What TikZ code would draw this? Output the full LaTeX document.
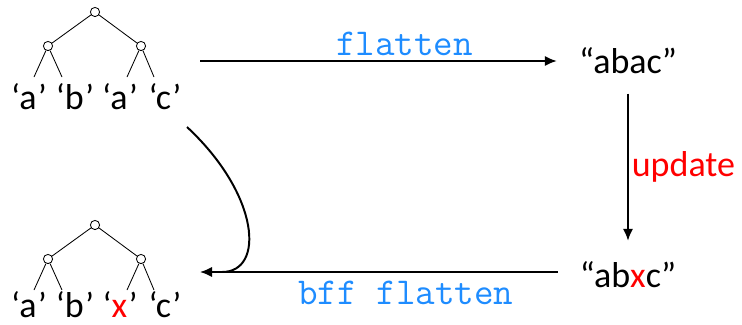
\documentclass[tikz,border=0pt]{standalone}
\usepackage{fontspec}
\setmainfont{Carlito}
\usetikzlibrary{arrows.meta}
\definecolor{MapBlue}{HTML}{1E8CFF}
\definecolor{MapRed}{HTML}{FF0000}
\newcommand{\fn}[1]{{\ttfamily\fontsize{27}{32}\selectfont #1}}
\newcommand{\leaf}[1]{‘#1\kern1pt’}
\tikzset{
  treedot/.style={
    circle,
    draw,
    fill=white,
    inner sep=0pt,
    minimum size=0.23cm,
    line width=0.6pt
  },
  treeedge/.style={line width=0.6pt},
  leaflabel/.style={
    anchor=base,
    inner sep=0pt,
    font=\fontsize{25.6}{30}\selectfont
  },
  strnode/.style={
    anchor=base,
    inner xsep=0.55cm,
    inner ysep=0.5cm,
    font=\fontsize{25.6}{30}\selectfont
  },
  mapflow/.style={-{Latex[length=0.3cm,width=0.26cm]},line width=1.4pt},
  maplabel/.style={text=MapBlue,inner sep=3pt}
}

\begin{document}
\begin{tikzpicture}[x=0.025cm,y=-0.025cm]
  \useasboundingbox (0,0) rectangle (742,324);
  % original tree
  \node[treedot] (root) at (95,12) {};
  \node[treedot] (left) at (48,46) {};
  \node[treedot] (right) at (141,46) {};
  \coordinate (l1) at (34,77);
  \coordinate (l2) at (62,77);
  \coordinate (l3) at (127,77);
  \coordinate (l4) at (154,77);
  \node[leaflabel] (la) at (29,109) {\leaf{a}};
  \node[leaflabel] (lb) at (75,109) {\leaf{b}};
  \node[leaflabel] (lc) at (120,109) {\leaf{a}};
  \node[leaflabel] (ld) at (165,109) {\leaf{c}};
  \draw[treeedge] (root) -- (left);
  \draw[treeedge] (root) -- (right);
  \draw[treeedge] (left) -- (l1);
  \draw[treeedge] (left) -- (l2);
  \draw[treeedge] (right) -- (l3);
  \draw[treeedge] (right) -- (l4);
  % updated tree
  \node[treedot] (nroot) at (95,225) {};
  \node[treedot] (nleft) at (48,259) {};
  \node[treedot] (nright) at (141,259) {};
  \coordinate (m1) at (34,290);
  \coordinate (m2) at (62,290);
  \coordinate (m3) at (127,290);
  \coordinate (m4) at (154,290);
  \node[leaflabel] (ma) at (29,317) {\leaf{a}};
  \node[leaflabel] (mb) at (75,317) {\leaf{b}};
  \node[leaflabel] (mc) at (120,317) {\leaf{\textcolor{MapRed}{x}}};
  \node[leaflabel] (md) at (165,317) {\leaf{c}};
  \draw[treeedge] (nroot) -- (nleft);
  \draw[treeedge] (nroot) -- (nright);
  \draw[treeedge] (nleft) -- (m1);
  \draw[treeedge] (nleft) -- (m2);
  \draw[treeedge] (nright) -- (m3);
  \draw[treeedge] (nright) -- (m4);
  % strings
  \node[strnode] (abac) at (628,73) {“abac”};
  \node[strnode] (abxc) at (628,287) {“ab\textcolor{MapRed}{x}c”};
  \coordinate (treeout) at (200,61);
  \coordinate (treein) at (200,272);
  \coordinate (curvestart) at (187,127);
  \coordinate (curveend) at (222,272);
  \draw[mapflow] (treeout) -- (treeout -| abac.west)
    node[maplabel,above,pos=0.573] {\fn{flatten}};
  \draw[mapflow] (abac.south) -- (abxc.north)
    node[right,midway,inner sep=2pt,text=MapRed] {\fontsize{25.6}{30}\selectfont update};
  \draw[mapflow] (abxc.west |- treein) -- (treein)
    node[maplabel,below,pos=0.424,inner sep=6pt] {\fn{bff flatten}};
  \draw[line width=1.4pt] (curvestart) .. controls (260,195) and (265,272) .. (curveend);
\end{tikzpicture}
\end{document}
